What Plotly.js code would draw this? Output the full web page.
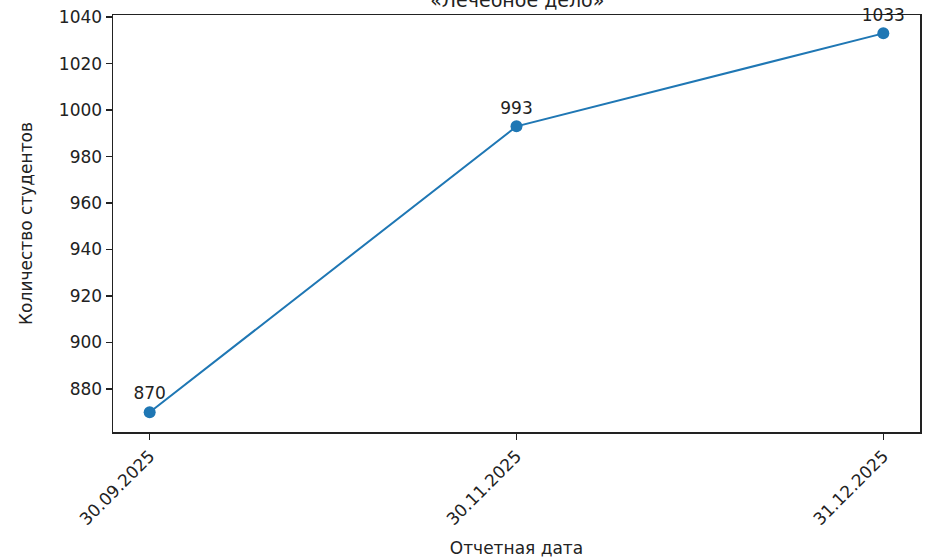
<!DOCTYPE html>
<html>
<head>
<meta charset="utf-8">
<script src="https://cdn.plot.ly/plotly-3.0.1.min.js"></script>
<style>html,body{margin:0;padding:0;background:#fff;}#chart{width:927px;height:560px;}</style>
</head>
<body>
<div id="chart"></div>
<script>
const dates = ["30.09.2025", "30.11.2025", "31.12.2025"];
const students = [870, 993, 1033];
const labels = students.map(String);
const yTicks = [880, 900, 920, 940, 960, 980, 1000, 1020, 1040];

const font = "DejaVu Sans, Arial, sans-serif";
const trace = {
  x: dates,
  y: students,
  type: "scatter",
  mode: "lines+markers+text",
  text: labels,
  textposition: "top center",
  textfont: {family: font, size: 17, color: "#222"},
  line: {color: "#1f77b4", width: 2},
  marker: {color: "#1f77b4", size: 12},
  cliponaxis: false,
  hoverinfo: "skip"
};
const layout = {
  width: 927, height: 560,
  margin: {l: 113, r: 7, t: 15, b: 128},
  paper_bgcolor: "#fff", plot_bgcolor: "#fff",
  showlegend: false,
  font: {family: font, color: "#222"},
  title: {text: "«Лечебное дело»", font: {family: font, size: 19, color: "#222"},
          x: 0.558, xanchor: "center", yref: "container", y: 1, yanchor: "middle"},
  xaxis: {
    type: "category", range: [-0.1, 2.1],
    showgrid: false, zeroline: false,
    showline: true, linecolor: "#222", linewidth: 1.5, mirror: true,
    ticks: "outside", ticklen: 6, tickcolor: "#222", tickwidth: 1.5,
    tickangle: -45, tickfont: {family: font, size: 17, color: "#222"},
    title: {text: "Отчетная дата", font: {family: font, size: 17, color: "#222"}, standoff: 14}
  },
  yaxis: {
    range: [861.5, 1040.9],
    tickvals: yTicks,
    showgrid: false, zeroline: false,
    showline: true, linecolor: "#222", linewidth: 1.5, mirror: true,
    ticks: "outside", ticklen: 6, tickcolor: "#222", tickwidth: 1.5,
    tickfont: {family: font, size: 17, color: "#222"},
    title: {text: "Количество студентов", font: {family: font, size: 17, color: "#222"}, standoff: 22}
  }
};
Plotly.newPlot("chart", [trace], layout, {displayModeBar: false, staticPlot: true});
</script>
</body>
</html>
